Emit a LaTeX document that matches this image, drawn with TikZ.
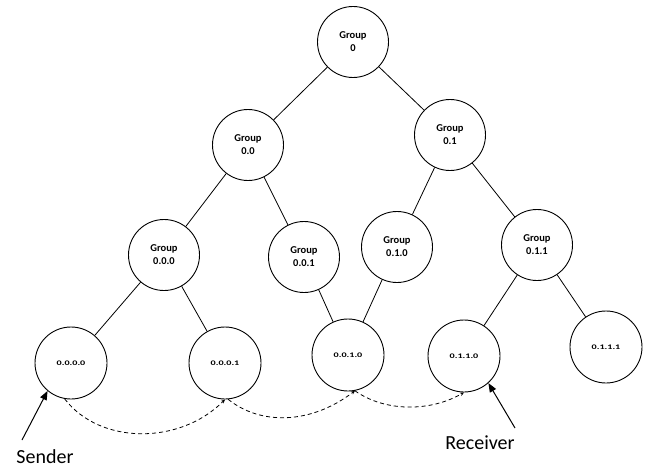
\documentclass[tikz,border=0pt]{standalone}
\usepackage{fontspec}
\setmainfont{Carlito}
\usetikzlibrary{arrows.meta}
\begin{document}
\begin{tikzpicture}[x=1pt,y=-1pt,
  grp/.style={draw,circle,line width=0.9pt,minimum size=71pt,inner sep=0pt,align=center,font=\fontsize{10.5}{13}\selectfont\bfseries},
  leaf/.style={draw,circle,line width=0.9pt,minimum size=72pt,inner sep=0pt,font=\fontsize{7}{8}\selectfont\bfseries},
  edge/.style={line width=0.8pt},
  hop/.style={line width=0.8pt,dash pattern=on 4pt off 3pt,-{Stealth[length=4pt,width=3.5pt]}},
  pointer/.style={line width=1pt,-{Triangle[length=9pt,width=7pt]}},
  lbl/.style={font=\fontsize{20}{22}\selectfont}]
\fill[white] (0,0) rectangle (653,468);
\useasboundingbox (0,0) rectangle (653,468);
\newcommand{\wide}[1]{\scalebox{1.45}[1]{#1}}
\node[grp] (g) at (353,42) {Group\\0};
\node[grp] (g0) at (248,145) {Group\\0.0};
\node[grp] (g1) at (450,135) {Group\\0.1};
\node[grp] (g00) at (164,255) {Group\\0.0.0};
\node[grp] (g01) at (304,257) {Group\\0.0.1};
\node[grp] (g10) at (397,247) {Group\\0.1.0};
\node[grp] (g11) at (537,245) {Group\\0.1.1};
\node[leaf] (l1) at (71,363) {\wide{0.0.0.0}};
\node[leaf] (l2) at (225,363) {\wide{0.0.0.1}};
\node[leaf] (l3) at (348,355) {\wide{0.0.1.0}};
\node[leaf] (l4) at (464,356) {\wide{0.1.1.0}};
\node[leaf] (l5) at (606,347) {\wide{0.1.1.1}};
\draw[edge] (g) -- (g0);
\draw[edge] (g) -- (g1);
\draw[edge] (g0) -- (g00);
\draw[edge] (g0) -- (g01);
\draw[edge] (g1) -- (g10);
\draw[edge] (g1) -- (g11);
\draw[edge] (g00) -- (l1);
\draw[edge] (g00) -- (l2);
\draw[edge] (g01) -- (l3);
\draw[edge] (g10) -- (l3);
\draw[edge] (g11) -- (l4);
\draw[edge] (g11) -- (l5);
\draw[hop] (l1.-100) .. controls (100,445) and (180,445) .. (l2.-90);
\draw[hop] (l2.-85) .. controls (260,425) and (310,425) .. (l3.-79);
\draw[hop] (l3.-79) .. controls (385,412) and (430,412) .. (l4.-90);
\node[lbl] (snd) at (45,457) {Sender};
\node[lbl] (rcv) at (480,443) {Receiver};
\coordinate (sa) at (22,440);
\coordinate (ra) at (515,428);
\draw[pointer] (sa) -- (l1.-130);
\draw[pointer] (ra) -- (l4.-48);
\end{tikzpicture}
\end{document}
